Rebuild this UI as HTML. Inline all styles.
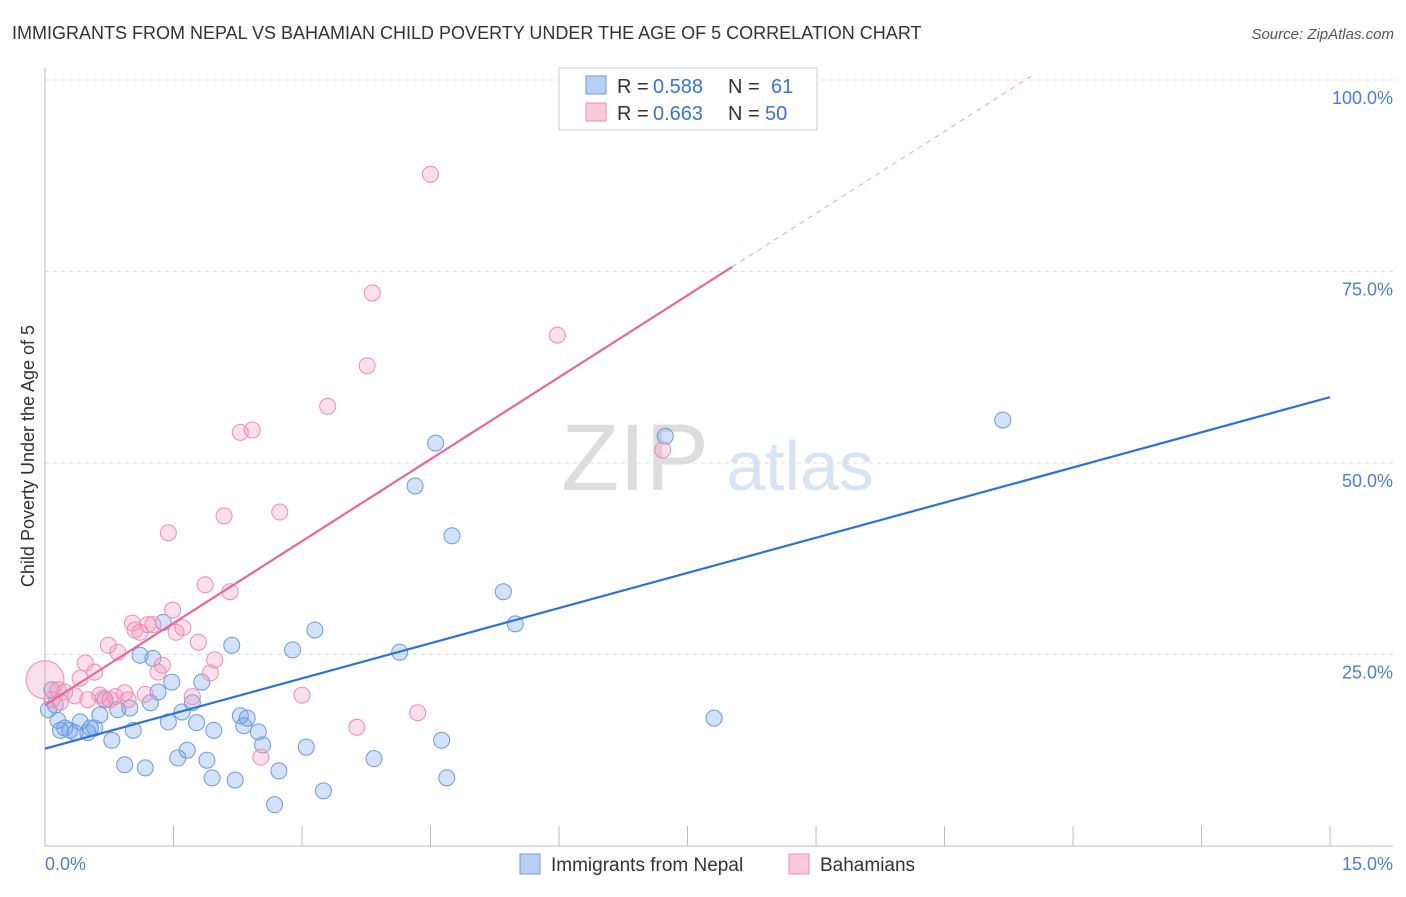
<!DOCTYPE html>
<html><head><meta charset="utf-8"><style>
body{margin:0;background:#fff;font-family:"Liberation Sans",sans-serif;}
svg text{font-family:"Liberation Sans",sans-serif;}
</style></head><body>
<svg id="chart" width="1406" height="892" viewBox="0 0 1406 892" xmlns="http://www.w3.org/2000/svg">
<text x="12" y="39" font-size="18" fill="#333">IMMIGRANTS FROM NEPAL VS BAHAMIAN CHILD POVERTY UNDER THE AGE OF 5 CORRELATION CHART</text>
<text x="1394" y="39" font-size="15" fill="#555" text-anchor="end" font-style="italic">Source: ZipAtlas.com</text>
<g>
<text x="635" y="490" font-size="95" fill="#ddd" text-anchor="middle" font-family="Liberation Serif, serif">ZIP</text>
<text x="800" y="490" font-size="70" fill="#d6e4f5" text-anchor="middle">atlas</text>
</g>
<g id="grid"></g>
<g id="axes"></g>
<g id="marks"></g>
<text transform="translate(34,456) rotate(-90)" font-size="18" fill="#333" text-anchor="middle">Child Poverty Under the Age of 5</text>
<g>
<rect x="559" y="68" width="258" height="62" fill="#fff" stroke="#ccc"/>
<rect x="586" y="76" width="20" height="18" fill="#b8d0f4" stroke="#6a9be0"/>
<rect x="586" y="103" width="20" height="18" fill="#fbc9d9" stroke="#f08cb0"/>
<text x="617" y="93" font-size="20" fill="#333">R =</text>
<text x="653" y="93" font-size="20" fill="#3a74d0">0.588</text>
<text x="728" y="93" font-size="20" fill="#333">N =</text>
<text x="771" y="93" font-size="20" fill="#3a74d0">61</text>
<text x="617" y="120" font-size="20" fill="#333">R =</text>
<text x="653" y="120" font-size="20" fill="#3a74d0">0.663</text>
<text x="728" y="120" font-size="20" fill="#333">N =</text>
<text x="765" y="120" font-size="20" fill="#3a74d0">50</text>
</g>
<g>
<rect x="520" y="854" width="20" height="20" fill="#b8d0f4" stroke="#6a9be0"/>
<text x="551" y="871" font-size="19" fill="#333">Immigrants from Nepal</text>
<rect x="789" y="854" width="20" height="20" fill="#fbc9d9" stroke="#f08cb0"/>
<text x="820" y="871" font-size="19" fill="#333">Bahamians</text>
</g>
</svg>
<script>
const blueX=[0.08,0.12,0.15,0.18,0.23,0.29,0.35,0.41,0.50,0.58,0.64,0.70,0.78,0.85,0.93,0.99,1.03,1.11,1.17,1.23,1.26,1.32,1.38,1.44,1.48,1.55,1.60,1.66,1.72,1.77,1.83,1.89,1.95,1.97,2.18,2.22,2.28,2.32,2.36,2.49,2.54,2.68,2.73,2.89,3.05,3.15,3.25,3.84,4.14,4.32,4.56,4.63,4.69,4.75,5.35,5.49,7.24,7.81,11.18,0.04,0.53];
const blueY=[20.4,18.4,16.4,15.1,15.4,15.1,14.8,16.2,14.8,15.4,17.1,19.1,13.8,17.8,10.6,18.0,15.1,24.9,10.2,18.7,24.5,20.1,29.2,16.2,21.4,11.5,17.5,12.5,18.7,16.1,21.4,11.2,8.9,15.1,26.2,8.6,17.0,15.7,16.7,14.9,13.2,5.4,9.8,25.6,12.9,28.2,7.2,11.4,25.3,47.0,52.6,13.8,8.9,40.5,33.2,29.0,53.5,16.7,55.6,17.8,15.4];
const pinkX=[0,0.08,0.15,0.23,0.35,0.41,0.47,0.58,0.68,0.74,0.82,0.85,0.93,1.02,1.05,1.11,1.20,1.26,1.32,1.37,1.44,1.49,1.53,1.61,1.72,1.79,1.87,1.93,1.98,2.09,2.16,2.28,2.42,2.52,2.74,3.00,3.30,3.64,3.76,3.82,4.35,4.50,5.98,7.21,0.97,0.64,1.17,0.18,0.50,0.76];
const pinkY=[21.7,19.1,20.4,20.1,19.6,21.9,23.9,22.7,19.3,26.2,19.5,25.3,20.0,29.1,28.2,27.9,28.9,28.9,22.7,23.6,40.9,30.8,27.9,28.5,19.5,26.6,34.1,22.6,24.3,43.1,33.2,54.0,54.3,11.6,43.6,19.7,57.4,15.5,62.7,72.2,17.4,87.7,66.7,51.7,19.1,19.7,19.8,18.8,19.1,19.1];
const blueLine=[12.7,58.6];
const pinkLine=[18.4,75.6];
const pinkLineEndX=8.02;
const yTicks=[25,50,75,100];
const yTickLabels=["25.0%","50.0%","75.0%","100.0%"];
const xTicks=[0,1.5,3,4.5,6,7.5,9,10.5,12,13.5,15];
const NS="http://www.w3.org/2000/svg";
const sx=v=>45+v*85.67;
const sy=v=>846-v*7.66;
function mk(tag,attrs,parent){const e=document.createElementNS(NS,tag);for(const k in attrs)e.setAttribute(k,attrs[k]);document.getElementById(parent).appendChild(e);return e;}
yTicks.forEach((t,i)=>{
 const g=mk('line',{x1:45,x2:1393,y1:sy(t),y2:sy(t),stroke:'#ddd','stroke-dasharray':'4,4'},'grid');
 
 
 const l=mk('text',{x:1393,y:sy(t)+24,'font-size':18,fill:'#4a7fd4','text-anchor':'end'},'grid');
 l.textContent=yTickLabels[i];
 
 
});
const ax=mk('line',{x1:45,x2:1393,y1:846,y2:846,stroke:'#bbb'},'axes');


const ay=mk('line',{x1:45,x2:45,y1:68,y2:846,stroke:'#bbb'},'axes');


xTicks.forEach(t=>{
 const tk=mk('line',{x1:sx(t),x2:sx(t),y1:826,y2:846,stroke:'#bbb'},'axes');
 
 
});
const x0=mk('text',{x:45,y:870,'font-size':18,fill:'#4a7fd4'},'axes');x0.textContent='0.0%';


const x1=mk('text',{x:1393,y:870,'font-size':18,fill:'#4a7fd4','text-anchor':'end'},'axes');x1.textContent='15.0%';


blueX.forEach((v,i)=>{
 const c=mk('circle',{cx:sx(v),cy:sy(blueY[i]),r:8,fill:'rgba(110,160,235,0.3)',stroke:'#6a9be0','stroke-width':1},'marks');
 
 
});
pinkX.forEach((v,i)=>{
 const c=mk('circle',{cx:sx(v),cy:sy(pinkY[i]),r:i===0?19:8,fill:'rgba(245,150,185,0.3)',stroke:'#f08cb0','stroke-width':1},'marks');
 
 
});
const slope=(pinkLine[1]-pinkLine[0])/pinkLineEndX;
const pd=mk('line',{x1:sx(pinkLineEndX),y1:sy(pinkLine[1]),x2:sx((100.5-pinkLine[0])/slope),y2:sy(100.5),stroke:'#f0a0bc','stroke-dasharray':'5,5','stroke-width':1},'marks');


const pl=mk('line',{x1:sx(0),y1:sy(pinkLine[0]),x2:sx(pinkLineEndX),y2:sy(pinkLine[1]),stroke:'#e8689a','stroke-width':2.2},'marks');


const bl=mk('line',{x1:sx(0),y1:sy(blueLine[0]),x2:sx(15),y2:sy(blueLine[1]),stroke:'#2d72d6','stroke-width':2.2},'marks');


</script>
</body></html>
